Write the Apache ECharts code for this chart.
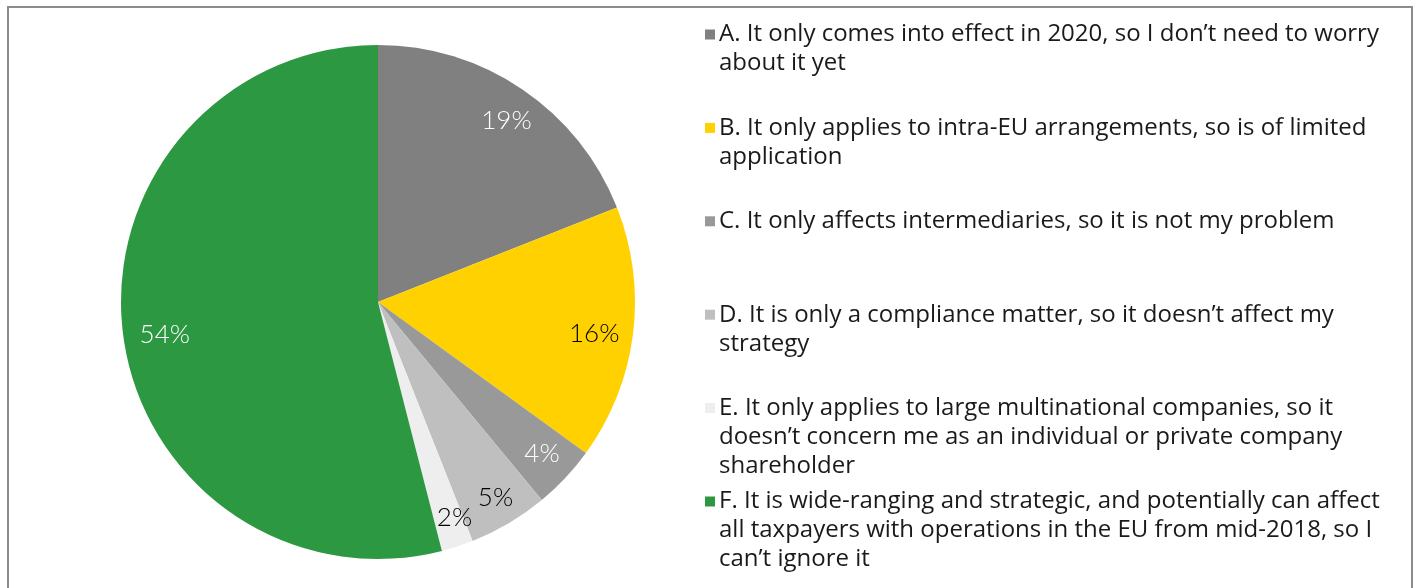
<!DOCTYPE html>
<html>
<head>
<meta charset="utf-8">
<style>
  html, body { margin: 0; padding: 0; background: #fff; }
  #chart { width: 1416px; height: 588px; }
</style>
<script src="https://cdn.jsdelivr.net/npm/echarts@6/dist/echarts.min.js"></script>
</head>
<body>
<div id="chart"></div>
<script>
// Survey answers (legend text is wrapped as it appears on the chart)
const categories = [
  'A. It only comes into effect in 2020, so I don’t need to worry\nabout it yet',
  'B. It only applies to intra-EU arrangements, so is of limited\napplication',
  'C. It only affects intermediaries, so it is not my problem',
  'D. It is only a compliance matter, so it doesn’t affect my\nstrategy',
  'E. It only applies to large multinational companies, so it\ndoesn’t concern me as an individual or private company\nshareholder',
  'F. It is wide-ranging and strategic, and potentially can affect\nall taxpayers with operations in the EU from mid-2018, so I\ncan’t ignore it'
];
const shares = [19, 16, 4, 5, 2, 54];
const sliceColors = ['#808080', '#FFD100', '#999999', '#BFBFBF', '#EEEEEE', '#2D9842'];
const labelColors = ['#ffffff', '#000000', '#ffffff', '#000000', '#000000', '#ffffff'];
// small nudges so the percentage text sits where the slice has room
const labelNudges = [[2, 5], [-7, 3], [0, -2], [3, 2], [7, 2], [10, 4]];

const chart = echarts.init(document.getElementById('chart'), null, { renderer: 'canvas' });

const legendFont = '"Open Sans", "Liberation Sans", Arial, sans-serif';
const labelFont = 'Lato, "Open Sans", sans-serif';

// one legend block per answer so the blocks sit on an even vertical rhythm
const legends = categories.map((name, i) => ({
  data: [name],
  orient: 'vertical',
  left: 700,
  top: 22.5 + i * 93.4,
  padding: 0,
  icon: 'none',
  itemWidth: 0,
  itemHeight: 11,
  selectedMode: false,
  formatter: (n) => n.split('\n')
    .map((line, k) => (k === 0 ? '{sq| }{g| }' : '{sp| }') + '{t|' + line + '}')
    .join('\n'),
  textStyle: {
    rich: {
      sq: { width: 10, height: 10, backgroundColor: sliceColors[i] },
      g: { width: 4 },
      sp: { width: 14 },
      t: { fontFamily: legendFont, fontSize: 24, color: '#1a1a1a', lineHeight: 29 }
    }
  }
}));

const pieData = categories.map((name, i) => ({
  name,
  value: shares[i],
  itemStyle: { color: sliceColors[i] },
  label: { color: labelColors[i], offset: labelNudges[i] }
}));

chart.setOption({
  animation: false,
  backgroundColor: '#ffffff',
  legend: legends,
  graphic: [{
    type: 'rect',
    silent: true,
    shape: { x: 8, y: 7, width: 1404, height: 600 },
    style: { fill: 'none', stroke: '#8C8C8C', lineWidth: 2 }
  }],
  series: [
    {
      type: 'pie',
      center: [378, 302],
      radius: 257,
      startAngle: 90,
      clockwise: true,
      silent: true,
      label: { show: false },
      labelLine: { show: false },
      itemStyle: { borderWidth: 0 },
      emphasis: { disabled: true },
      data: pieData
    },
    {
      // transparent ring that only carries the percentage labels
      type: 'pie',
      center: [378, 302],
      radius: [200, 244],
      startAngle: 90,
      clockwise: true,
      silent: true,
      legendHoverLink: false,
      itemStyle: { color: 'rgba(0,0,0,0)', borderWidth: 0 },
      label: {
        show: true,
        position: 'inside',
        formatter: '{c}%',
        fontFamily: labelFont,
        fontWeight: 300,
        fontSize: 26
      },
      labelLine: { show: false },
      emphasis: { disabled: true },
      data: pieData.map(d => ({ name: d.name, value: d.value, label: d.label }))
    }
  ]
});
</script>
</body>
</html>
